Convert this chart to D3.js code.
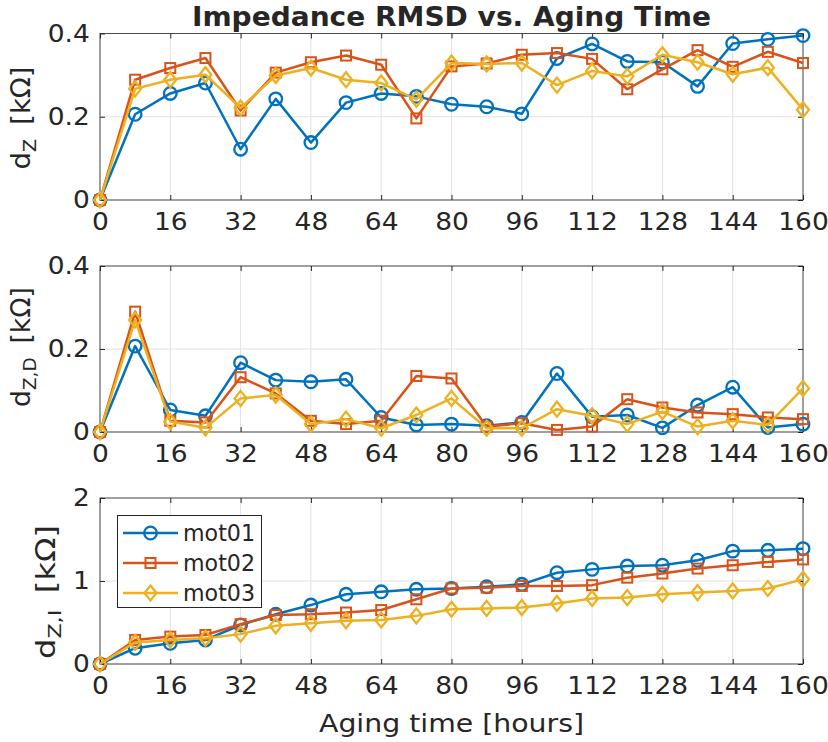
<!DOCTYPE html>
<html>
<head>
<meta charset="utf-8">
<script src="https://cdn.jsdelivr.net/npm/d3@7"></script>
<style>
  html, body { margin: 0; padding: 0; background: #fff; }
  svg { display: block; }
  text { font-family: "DejaVu Sans", sans-serif; fill: #262626; }
</style>
</head>
<body>
<svg id="chart" width="828" height="742"></svg>
<script>
// ---------------- data ----------------
const hours = [0, 8, 16, 24, 32, 40, 48, 56, 64, 72, 80, 88, 96, 104, 112, 120, 128, 136, 144, 152, 160];
const seriesNames = ["mot01", "mot02", "mot03"];
const xTicks = [0, 16, 32, 48, 64, 80, 96, 112, 128, 144, 160];

// Panel 1: d_Z
const dZ_mot01 = [0, 0.206, 0.256, 0.281, 0.122, 0.243, 0.138, 0.234, 0.256, 0.249, 0.230, 0.224, 0.207, 0.340, 0.375, 0.333, 0.331, 0.273, 0.376, 0.386, 0.395];
const dZ_mot02 = [0, 0.289, 0.317, 0.341, 0.215, 0.306, 0.331, 0.347, 0.325, 0.196, 0.321, 0.328, 0.349, 0.353, 0.339, 0.266, 0.314, 0.360, 0.320, 0.356, 0.329];
const dZ_mot03 = [0, 0.267, 0.289, 0.301, 0.221, 0.299, 0.317, 0.289, 0.281, 0.242, 0.329, 0.327, 0.329, 0.276, 0.310, 0.297, 0.349, 0.331, 0.302, 0.318, 0.217];

// Panel 2: d_Z,D
const dZD_mot01 = [0, 0.207, 0.053, 0.039, 0.167, 0.125, 0.121, 0.127, 0.035, 0.017, 0.019, 0.015, 0.023, 0.141, 0.037, 0.041, 0.010, 0.065, 0.108, 0.011, 0.019];
const dZD_mot02 = [0, 0.290, 0.027, 0.023, 0.132, 0.093, 0.027, 0.019, 0.027, 0.135, 0.129, 0.013, 0.021, 0.005, 0.013, 0.079, 0.059, 0.047, 0.043, 0.035, 0.031];
const dZD_mot03 = [0, 0.270, 0.025, 0.010, 0.081, 0.089, 0.019, 0.031, 0.009, 0.041, 0.081, 0.009, 0.009, 0.055, 0.039, 0.019, 0.049, 0.013, 0.027, 0.017, 0.105];

// Panel 3: d_Z,I
const dZI_mot01 = [0, 0.19, 0.25, 0.29, 0.47, 0.60, 0.71, 0.84, 0.87, 0.90, 0.91, 0.93, 0.96, 1.10, 1.14, 1.18, 1.19, 1.25, 1.36, 1.37, 1.39];
const dZI_mot02 = [0, 0.29, 0.33, 0.35, 0.48, 0.59, 0.60, 0.62, 0.65, 0.78, 0.91, 0.92, 0.94, 0.94, 0.95, 1.04, 1.09, 1.15, 1.19, 1.23, 1.26];
const dZI_mot03 = [0, 0.26, 0.29, 0.31, 0.36, 0.46, 0.49, 0.52, 0.53, 0.58, 0.66, 0.67, 0.68, 0.73, 0.79, 0.80, 0.84, 0.86, 0.88, 0.91, 1.02];

const yTicksP1 = [0, 0.2, 0.4];
const yTicksP2 = [0, 0.2, 0.4];
const yTicksP3 = [0, 1, 2];
const yTickLabelsP1 = ["0", "0.2", "0.4"];
const yTickLabelsP2 = ["0", "0.2", "0.4"];
const yTickLabelsP3 = ["0", "1", "2"];

const titleText = "Impedance RMSD vs. Aging Time";
const xLabelText = "Aging time [hours]";

// ---------------- styling ----------------
const colors = ["#0072BD", "#D95319", "#EDB120"];
const markers = ["circle", "square", "diamond"];
const svg = d3.select("#chart");
const left = 100, right = 803;
const SX = 1.08; // horizontal stretch of glyphs seen in the reference
const panels = [
  { top: 33.5, bottom: 200, domain: [0, 0.4], ticks: yTicksP1, labels: yTickLabelsP1,
    series: [dZ_mot01, dZ_mot02, dZ_mot03], ylab: ["d", "Z", ""], ylabX: 30, ylabC: 118, ylabLen: 103 },
  { top: 266, bottom: 432, domain: [0, 0.4], ticks: yTicksP2, labels: yTickLabelsP2,
    series: [dZD_mot01, dZD_mot02, dZD_mot03], ylab: ["d", "Z,D", ""], ylabX: 30, ylabC: 347, ylabLen: 120 },
  { top: 498, bottom: 664, domain: [0, 2], ticks: yTicksP3, labels: yTickLabelsP3,
    series: [dZI_mot01, dZI_mot02, dZI_mot03], ylab: ["d", "Z,I", ""], ylabX: 55, ylabC: 592, ylabLen: 134 }
];

const x = d3.scaleLinear().domain([0, 160]).range([left, right]);

function drawMarker(g, type, cx, cy, color) {
  if (type === "circle") {
    g.append("circle").attr("cx", cx).attr("cy", cy).attr("r", 6.3)
      .attr("fill", "none").attr("stroke", color).attr("stroke-width", 2.3);
  } else if (type === "square") {
    g.append("rect").attr("x", cx - 5).attr("y", cy - 5).attr("width", 10).attr("height", 10)
      .attr("fill", "none").attr("stroke", color).attr("stroke-width", 2);
  } else {
    const w = 6, h = 7.5;
    g.append("path").attr("d", `M${cx},${cy - h}L${cx + w},${cy}L${cx},${cy + h}L${cx - w},${cy}Z`)
      .attr("fill", "none").attr("stroke", color).attr("stroke-width", 2.3);
  }
}

panels.forEach((p) => {
  const y = d3.scaleLinear().domain(p.domain).range([p.bottom, p.top]);
  const g = svg.append("g");

  // grid
  g.selectAll(".gx").data(xTicks).enter().append("line")
    .attr("x1", d => x(d)).attr("x2", d => x(d)).attr("y1", p.top).attr("y2", p.bottom)
    .attr("stroke", "#e2e2e2").attr("stroke-width", 1);
  g.selectAll(".gy").data(p.ticks).enter().append("line")
    .attr("x1", left).attr("x2", right).attr("y1", d => y(d)).attr("y2", d => y(d))
    .attr("stroke", "#e2e2e2").attr("stroke-width", 1);

  // axes via d3 axis (inward ticks)
  const xAxis = d3.axisBottom(x).tickValues(xTicks).tickSizeInner(-5).tickSizeOuter(0).tickPadding(11);
  const ga = g.append("g").attr("transform", `translate(0,${p.bottom})`).call(xAxis);
  ga.select(".domain").remove();
  ga.selectAll("line").attr("stroke", "#262626");
  ga.selectAll("text").attr("font-size", 24.5).attr("fill", "#262626")
    .attr("font-family", "DejaVu Sans").attr("dy", "0.76em")
    .attr("transform", `scale(${SX},1)`);
  const xTop = d3.axisTop(x).tickValues(xTicks).tickSizeInner(-5).tickSizeOuter(0).tickFormat("");
  const gt = g.append("g").attr("transform", `translate(0,${p.top})`).call(xTop);
  gt.select(".domain").remove();
  gt.selectAll("line").attr("stroke", "#262626");

  const yAxis = d3.axisLeft(y).tickValues(p.ticks).tickSizeInner(-5).tickSizeOuter(0).tickPadding(9.5)
    .tickFormat((d, i) => p.labels[i]);
  const gy = g.append("g").attr("transform", `translate(${left},0)`).call(yAxis);
  gy.select(".domain").remove();
  gy.selectAll("line").attr("stroke", "#262626");
  gy.selectAll("text").attr("font-size", 24.5).attr("fill", "#262626").attr("font-family", "DejaVu Sans")
    .attr("transform", `scale(${SX},1)`);
  const yR = d3.axisRight(y).tickValues(p.ticks).tickSizeInner(-5).tickSizeOuter(0).tickFormat("");
  const gr = g.append("g").attr("transform", `translate(${right},0)`).call(yR);
  gr.select(".domain").remove();
  gr.selectAll("line").attr("stroke", "#262626");

  // box
  g.append("rect").attr("x", left).attr("y", p.top).attr("width", right - left).attr("height", p.bottom - p.top)
    .attr("fill", "none").attr("stroke", "#262626").attr("stroke-width", 1).attr("stroke-opacity", 0.8);

  // series
  p.series.forEach((vals, si) => {
    const sg = g.append("g");
    const line = d3.line().x((d, i) => x(hours[i])).y(d => y(d));
    sg.append("path").datum(vals).attr("d", line).attr("fill", "none")
      .attr("stroke", colors[si]).attr("stroke-width", 2.5).attr("stroke-linejoin", "round");
    vals.forEach((v, i) => drawMarker(sg, markers[si], x(hours[i]), y(v), colors[si]));
  });

  // y label
  const lab = svg.append("text")
    .attr("transform", `translate(${p.ylabX},${p.ylabC}) rotate(-90)`)
    .attr("text-anchor", "middle").attr("font-size", 26)
    .attr("textLength", p.ylabLen).attr("lengthAdjust", "spacingAndGlyphs");
  lab.append("tspan").text(p.ylab[0]);
  lab.append("tspan").attr("font-size", 18).attr("dy", 6).text(p.ylab[1]);
  lab.append("tspan").attr("dy", -6).text("\u2009 [k\u03A9]");
});

// title
svg.append("text").attr("x", (left + right) / 2).attr("y", 26).attr("text-anchor", "middle")
  .attr("font-size", 26).attr("font-weight", "bold").attr("fill", "#000")
  .attr("textLength", 519).attr("lengthAdjust", "spacingAndGlyphs").text(titleText);

// x label
svg.append("text").attr("x", (left + right) / 2).attr("y", 732).attr("text-anchor", "middle")
  .attr("font-size", 25.5).attr("textLength", 265).attr("lengthAdjust", "spacingAndGlyphs").text(xLabelText);

// legend
const lg = svg.append("g");
lg.append("rect").attr("x", 117.5).attr("y", 515.5).attr("width", 144).attr("height", 92)
  .attr("fill", "#fff").attr("stroke", "#262626").attr("stroke-width", 1);
seriesNames.forEach((name, i) => {
  const ly = 533 + i * 30;
  lg.append("line").attr("x1", 123).attr("x2", 178).attr("y1", ly).attr("y2", ly)
    .attr("stroke", colors[i]).attr("stroke-width", 2.5);
  drawMarker(lg, markers[i], 150.5, ly, colors[i]);
  lg.append("text").attr("x", 183).attr("y", ly).attr("dy", "0.36em")
    .attr("font-size", 23).attr("textLength", 72).attr("lengthAdjust", "spacingAndGlyphs").text(name);
});
</script>
</body>
</html>
